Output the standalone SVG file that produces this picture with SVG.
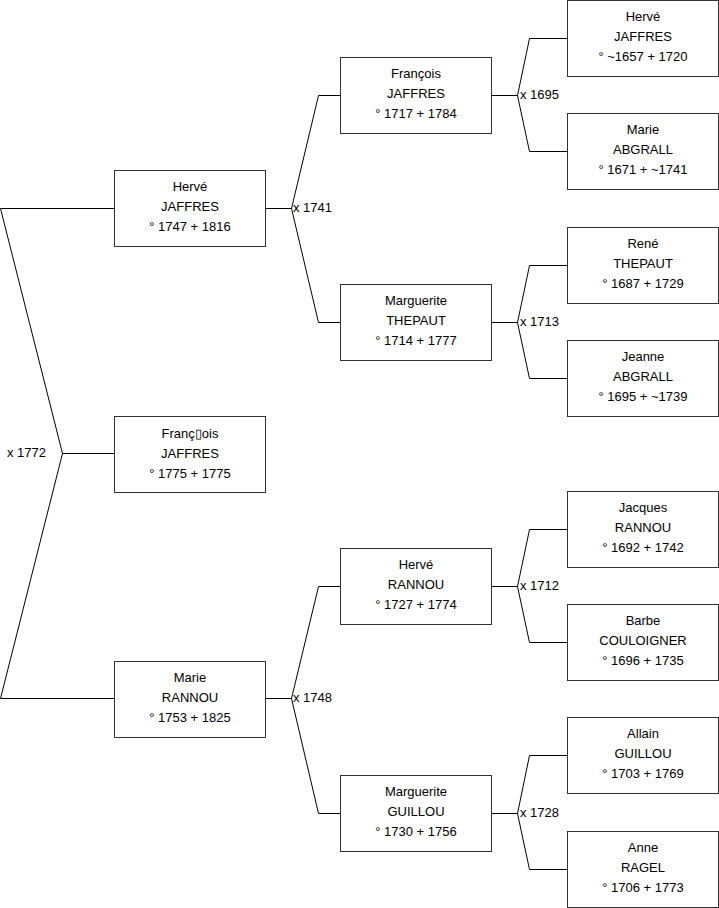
<svg xmlns="http://www.w3.org/2000/svg" width="719" height="908" viewBox="0 0 719 908">
<style>
.box{fill:#fff;stroke:#333;stroke-width:1}
.t{font-family:"Liberation Sans",Arial,sans-serif;font-size:13px;fill:#000;text-anchor:middle}
.l{font-family:"Liberation Sans",Arial,sans-serif;font-size:13px;fill:#000}
.c{fill:none;stroke:#000;stroke-width:1}
</style>
<rect width="719" height="908" fill="#fff"/>
<g id="connectors">
<path class="c" d="M114.5,208.5H0.5L62.5,453.5L0.5,698.5H114.5M62.5,453.5H114.5"/>
<path class="c" d="M265.5,208.5H291.5M340.5,95.5H318.5L291.5,208.5L318.5,322.5H340.5"/>
<path class="c" d="M265.5,698.5H291.5M340.5,586.5H318.5L291.5,698.5L318.5,813.5H340.5"/>
<path class="c" d="M491.5,95.5H517.5M567.5,38.5H529.5L517.5,95.5L529.5,151.5H567.5"/>
<path class="c" d="M491.5,322.5H517.5M567.5,265.5H529.5L517.5,322.5L529.5,378.5H567.5"/>
<path class="c" d="M491.5,586.5H517.5M567.5,529.5H529.5L517.5,586.5L529.5,642.5H567.5"/>
<path class="c" d="M491.5,813.5H517.5M567.5,755.5H529.5L517.5,813.5L529.5,869.5H567.5"/>
<text class="l" x="7" y="457">x 1772</text>
<text class="l" x="293" y="212">x 1741</text>
<text class="l" x="293" y="702">x 1748</text>
<text class="l" x="520" y="99">x 1695</text>
<text class="l" x="520" y="326">x 1713</text>
<text class="l" x="520" y="590">x 1712</text>
<text class="l" x="520" y="817">x 1728</text>
</g>
<g id="n0"><rect class="box" x="114.5" y="416.5" width="151" height="76"/><text class="t" x="190" y="438">Franç▯ois</text><text class="t" x="190" y="458">JAFFRES</text><text class="t" x="190" y="478">° 1775 + 1775</text></g>
<g id="n1"><rect class="box" x="114.5" y="170.5" width="151" height="76"/><text class="t" x="190" y="191">Hervé</text><text class="t" x="190" y="211">JAFFRES</text><text class="t" x="190" y="231">° 1747 + 1816</text></g>
<g id="n2"><rect class="box" x="114.5" y="661.5" width="151" height="76"/><text class="t" x="190" y="682">Marie</text><text class="t" x="190" y="702">RANNOU</text><text class="t" x="190" y="722">° 1753 + 1825</text></g>
<g id="n3"><rect class="box" x="340.5" y="57.5" width="151" height="76"/><text class="t" x="416" y="78">François</text><text class="t" x="416" y="98">JAFFRES</text><text class="t" x="416" y="118">° 1717 + 1784</text></g>
<g id="n4"><rect class="box" x="340.5" y="284.5" width="151" height="76"/><text class="t" x="416" y="305">Marguerite</text><text class="t" x="416" y="325">THEPAUT</text><text class="t" x="416" y="345">° 1714 + 1777</text></g>
<g id="n5"><rect class="box" x="340.5" y="548.5" width="151" height="76"/><text class="t" x="416" y="569">Hervé</text><text class="t" x="416" y="589">RANNOU</text><text class="t" x="416" y="609">° 1727 + 1774</text></g>
<g id="n6"><rect class="box" x="340.5" y="775.5" width="151" height="76"/><text class="t" x="416" y="796">Marguerite</text><text class="t" x="416" y="816">GUILLOU</text><text class="t" x="416" y="836">° 1730 + 1756</text></g>
<g id="n7"><rect class="box" x="567.5" y="0.5" width="151" height="76"/><text class="t" x="643" y="21">Hervé</text><text class="t" x="643" y="41">JAFFRES</text><text class="t" x="643" y="61">° ~1657 + 1720</text></g>
<g id="n8"><rect class="box" x="567.5" y="113.5" width="151" height="76"/><text class="t" x="643" y="134">Marie</text><text class="t" x="643" y="154">ABGRALL</text><text class="t" x="643" y="174">° 1671 + ~1741</text></g>
<g id="n9"><rect class="box" x="567.5" y="227.5" width="151" height="76"/><text class="t" x="643" y="248">René</text><text class="t" x="643" y="268">THEPAUT</text><text class="t" x="643" y="288">° 1687 + 1729</text></g>
<g id="n10"><rect class="box" x="567.5" y="340.5" width="151" height="76"/><text class="t" x="643" y="361">Jeanne</text><text class="t" x="643" y="381">ABGRALL</text><text class="t" x="643" y="401">° 1695 + ~1739</text></g>
<g id="n11"><rect class="box" x="567.5" y="491.5" width="151" height="76"/><text class="t" x="643" y="512">Jacques</text><text class="t" x="643" y="532">RANNOU</text><text class="t" x="643" y="552">° 1692 + 1742</text></g>
<g id="n12"><rect class="box" x="567.5" y="604.5" width="151" height="76"/><text class="t" x="643" y="625">Barbe</text><text class="t" x="643" y="645">COULOIGNER</text><text class="t" x="643" y="665">° 1696 + 1735</text></g>
<g id="n13"><rect class="box" x="567.5" y="717.5" width="151" height="76"/><text class="t" x="643" y="738">Allain</text><text class="t" x="643" y="758">GUILLOU</text><text class="t" x="643" y="778">° 1703 + 1769</text></g>
<g id="n14"><rect class="box" x="567.5" y="831.5" width="151" height="76"/><text class="t" x="643" y="852">Anne</text><text class="t" x="643" y="872">RAGEL</text><text class="t" x="643" y="892">° 1706 + 1773</text></g>
</svg>
